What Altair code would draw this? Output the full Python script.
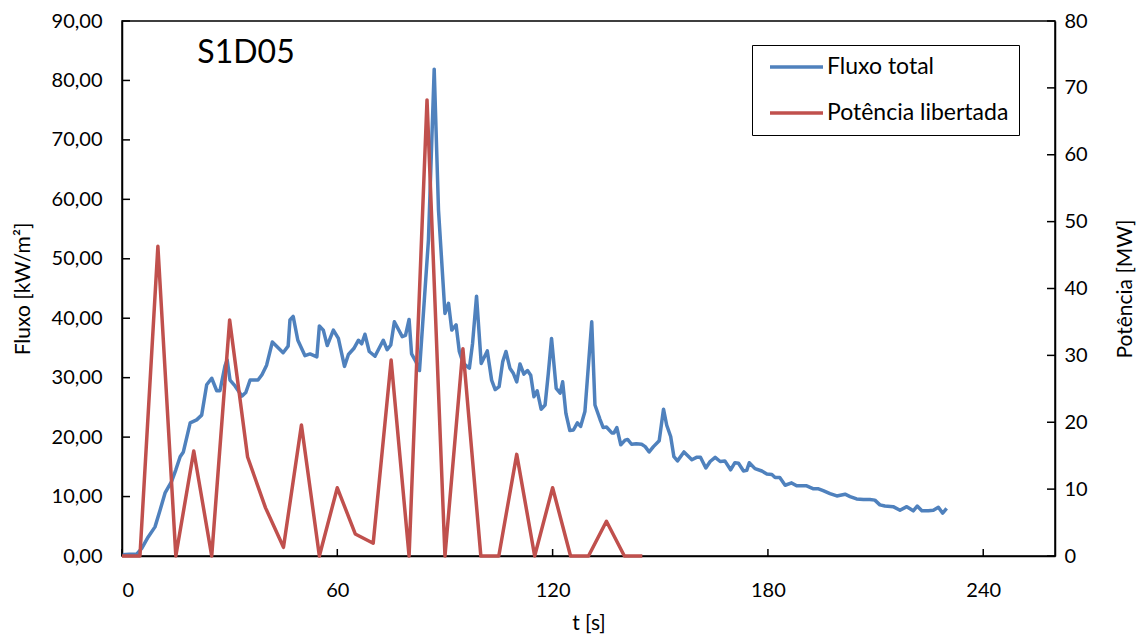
import altair as alt
import pandas as pd

# ---------------- data ----------------
t_fluxo = [0, 2, 4.1, 5.5, 7.3, 9.2, 10.6, 12, 13.8, 15, 16.2, 17.1, 19, 20.8, 22.2, 23.6, 25, 26.4,
           27.3, 28.7, 29.3, 30.1, 31.5, 33.4, 34.5, 35.7, 37.9, 39, 40.3, 41.9, 44.9, 46.3, 46.8,
           47.7, 49, 51, 52.4, 54.3, 55, 56.1, 57.2, 58.9, 60.3, 62, 63.1, 64.6, 65.9, 66.8, 67.7,
           68.9, 70.5, 72.8, 73.9, 74.9, 75.9, 78.1, 79, 80, 80.7, 81.9, 82.9, 85.4, 87, 88.2, 90,
           91, 91.9, 93.1, 94, 95.1, 96.8, 97.7, 98.8, 100.1, 101.8, 103, 104, 105.1, 106.1, 107,
           108.1, 109, 110, 110.9, 112, 113, 113.9, 114.8, 115.7, 116.8, 117.9, 118.8, 119.7, 121,
           122.1, 122.8, 123.7, 124.8, 125.8, 126.9, 127.8, 129, 130.9, 131.8, 133.2, 134.1, 135,
           136.5, 137.1, 137.9, 139, 140.2, 140.9, 142, 143.3, 144.8, 145.8, 146.9, 148.1, 149.7,
           150.9, 151.8, 152.9, 153.8, 154.8, 156.6, 158.8, 160.1, 161.2, 162.7, 163.9, 165.3,
           166.7, 168, 169.6, 170.8, 171.8, 173.2, 174.1, 174.8, 176.4, 178.3, 179.7, 181.1, 182,
           183.3, 184.8, 186.6, 188, 189.4, 190.8, 192.7, 194.1, 195.4, 197.3, 199.2, 201.5, 202.9,
           204.7, 206.6, 208.4, 209.8, 211.2, 212.6, 214.9, 216.8, 218.7, 220.5, 221.6, 222.9,
           224.7, 226.1, 227.5, 228.7, 229.8]
fluxo = [0.2, 0.3, 0.3, 1.3, 3.2, 4.9, 7.7, 10.6, 12.5, 14.5, 16.7, 17.5, 22.4, 22.9, 23.7, 28.8,
         29.9, 27.8, 27.8, 32.0, 33.0, 29.6, 28.6, 26.9, 27.5, 29.6, 29.6, 30.5, 32.1, 36.0, 34.2,
         35.3, 39.7, 40.3, 36.3, 33.7, 34.0, 33.5, 38.7, 38.0, 35.4, 38.0, 36.6, 31.9, 33.9, 34.9,
         36.3, 35.7, 37.3, 34.4, 33.6, 36.3, 34.7, 35.5, 39.4, 36.9, 37.1, 39.8, 34.0, 32.7, 31.2,
         53.2, 81.9, 58.2, 40.8, 42.5, 38.0, 38.9, 34.4, 32.4, 31.6, 35.8, 43.7, 32.4, 34.5, 29.6,
         28.0, 28.5, 32.7, 34.4, 31.6, 30.8, 29.3, 32.3, 30.6, 31.2, 30.4, 26.8, 27.8, 24.7, 25.4,
         30.7, 36.6, 28.2, 27.4, 29.3, 24.0, 21.1, 21.2, 22.4, 21.8, 24.3, 39.4, 25.4, 23.0, 21.6,
         21.7, 20.7, 20.7, 21.6, 18.7, 19.5, 19.6, 18.8, 18.9, 18.8, 18.4, 17.5, 18.4, 19.4, 24.7,
         22.0, 20.1, 16.7, 16.0, 17.5, 16.2, 16.6, 16.6, 14.8, 15.9, 16.6, 15.9, 16.0, 14.5, 15.7,
         15.6, 14.3, 14.4, 15.7, 14.7, 14.3, 13.8, 13.7, 13.2, 13.2, 11.9, 12.3, 11.8, 11.8, 11.8,
         11.3, 11.3, 11.0, 10.5, 10.1, 10.4, 10.0, 9.6, 9.5, 9.5, 9.4, 8.6, 8.4, 8.3, 7.7, 8.3,
         7.6, 8.4, 7.6, 7.6, 7.7, 8.2, 7.2, 8.0]

t_pot = [0, 5, 10, 15, 20, 25, 30, 35, 40, 45, 50, 55, 60, 65, 70, 75, 80, 85, 90, 95, 100, 105,
         110, 115, 120, 125, 130, 135, 140, 145]
pot = [0, 0, 46.3, 0, 15.7, 0, 35.3, 14.8, 7.2, 1.3, 19.6, 0, 10.2, 3.3, 1.9, 29.3, 0, 68.2, 0,
       31.0, 0, 0, 15.2, 0, 10.2, 0, 0, 5.2, 0, 0]

x_ticks = [0, 60, 120, 180, 240]
left_ticks = [0, 10, 20, 30, 40, 50, 60, 70, 80, 90]
right_ticks = [0, 10, 20, 30, 40, 50, 60, 70, 80]
series_names = ["Fluxo total", "Potência libertada"]
series_colors = ["#4F81BD", "#C0504D"]
chart_label = ["S1D05"]

FONT = "Lato"
W, H = 933, 535

df_f = pd.DataFrame({"t": t_fluxo, "fluxo": fluxo, "serie": series_names[0]})
df_p = pd.DataFrame({"t": t_pot, "pot": pot, "serie": series_names[1]})
df_xt = pd.DataFrame({"v": x_ticks})
df_lt = pd.DataFrame({"v": left_ticks})
df_rt = pd.DataFrame({"v": right_ticks})
df_lab = pd.DataFrame({"label": chart_label})

x_scale = alt.Scale(domain=[0, 260], nice=False, zero=False)
x_axis = alt.Axis(values=x_ticks, title="t [s]", format="d", labelPadding=24, titlePadding=12)
yl_scale = alt.Scale(domain=[0, 90], nice=False)
yl_axis = alt.Axis(values=left_ticks, title="Fluxo [kW/m²]",
                   labelExpr="replace(format(datum.value, '.2f'), '.', ',')",
                   labelPadding=20, titlePadding=18)
yr_scale = alt.Scale(domain=[0, 80], nice=False)
yr_axis = alt.Axis(values=right_ticks, orient="right", title="Potência [MW]", format="d",
                   labelPadding=9, titleAngle=270, titleX=70, titleY=H / 2,
                   titleAlign="center", titleBaseline="middle")

color = alt.Color(
    "serie:N",
    scale=alt.Scale(domain=series_names, range=series_colors),
    legend=alt.Legend(title=None, orient="none", legendX=630, legendY=24),
)

LW = 3.5
blue = alt.Chart(df_f).mark_line(strokeWidth=LW, strokeJoin="round").encode(
    x=alt.X("t:Q", scale=x_scale, axis=x_axis),
    y=alt.Y("fluxo:Q", scale=yl_scale, axis=yl_axis),
    color=color,
)
left_tick_rules = alt.Chart(df_lt).mark_rule(color="black", strokeWidth=1.5).encode(
    y=alt.Y("v:Q", scale=yl_scale, axis=yl_axis),
    x=alt.value(0), x2=alt.value(8),
)
x_tick_rules = alt.Chart(df_xt).mark_rule(color="black", strokeWidth=1.5).encode(
    x=alt.X("v:Q", scale=x_scale, axis=x_axis),
    y=alt.value(H), y2=alt.value(H - 7),
)
label = alt.Chart(df_lab).mark_text(
    fontSize=32, font=FONT, align="center", baseline="middle", color="black"
).encode(text="label:N", x=alt.value(124), y=alt.value(32))

left_group = alt.layer(blue, left_tick_rules, x_tick_rules, label)

red = alt.Chart(df_p).mark_line(strokeWidth=LW, strokeJoin="round").encode(
    x=alt.X("t:Q", scale=x_scale, axis=x_axis),
    y=alt.Y("pot:Q", scale=yr_scale, axis=yr_axis),
    color=color,
)
right_tick_rules = alt.Chart(df_rt).mark_rule(color="black", strokeWidth=1.5).encode(
    y=alt.Y("v:Q", scale=yr_scale, axis=yr_axis),
    x=alt.value(W - 8), x2=alt.value(W),
)
right_group = alt.layer(red, right_tick_rules)

chart = (
    alt.layer(left_group, right_group)
    .resolve_scale(y="independent")
    .properties(
        width=W, height=H,
        autosize=alt.AutoSizeParams(type="none"),
        padding={"left": 122, "top": 21, "right": 85, "bottom": 86},
        background="white",
    )
    .configure_view(stroke="black", strokeWidth=1.5)
    .configure_axis(
        grid=False, ticks=False, domainColor="black", domainWidth=1.5,
        labelFont=FONT, labelFontSize=20, labelColor="black",
        titleFont=FONT, titleFontSize=21, titleFontWeight="normal", titleColor="black",
    )
    .configure_legend(
        labelFont=FONT, labelFontSize=23, labelColor="black", labelLimit=400,
        symbolType="M-0.4,0H4.9", symbolSize=400, symbolStrokeWidth=3.5, labelOffset=41,
        strokeColor="black", fillColor="white", padding=10, rowPadding=22,
    )
)

chart.save("out.html", embed_options={"renderer": "svg", "actions": False})
